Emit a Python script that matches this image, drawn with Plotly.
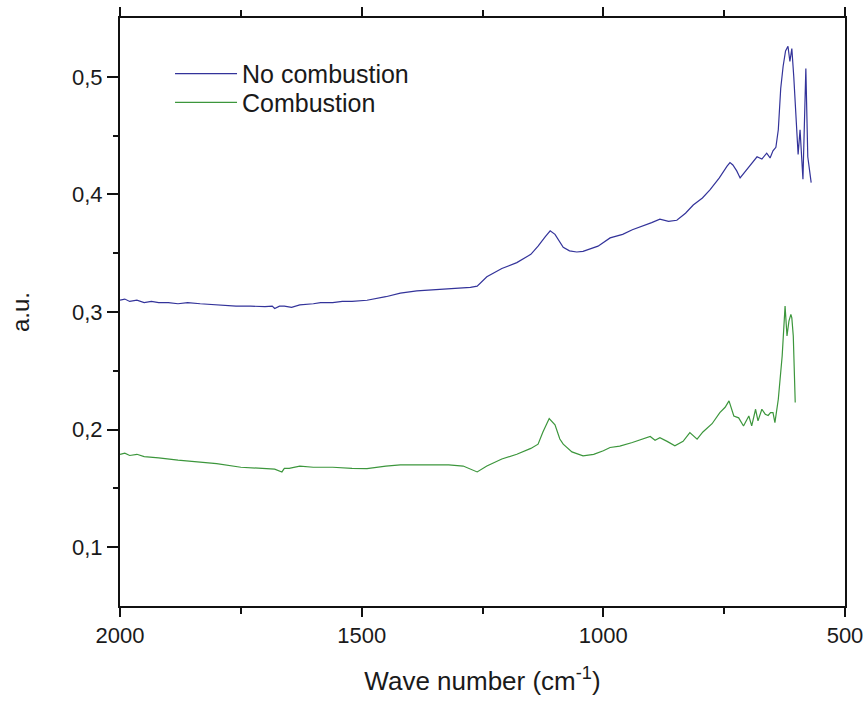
import plotly.graph_objects as go

# No combustion (blue)
wn_blue = [2000, 1990, 1980, 1965, 1950, 1935, 1920, 1900, 1880, 1860, 1834, 1800, 1760, 1730, 1700, 1685, 1680, 1670,
           1660, 1645, 1628, 1600, 1585, 1560, 1540, 1520, 1489,
           1450, 1420, 1386, 1350, 1300, 1275, 1261, 1241, 1210, 1179, 1150, 1135, 1120, 1110, 1100, 1090, 1083,
           1070, 1055, 1042, 1025, 1011, 986, 960, 940, 918, 900, 883, 865, 848, 830, 814, 795, 779, 760,
           744, 738, 732, 724, 717, 705, 695, 682, 672, 662, 655, 649, 643, 638, 633, 628, 623, 618, 614,
           610, 606, 603, 599, 597, 593, 590, 587, 584, 581, 577, 574, 570]
val_blue = [0.310, 0.311, 0.309, 0.310, 0.308, 0.309, 0.308, 0.308, 0.307, 0.308, 0.307, 0.306, 0.305, 0.305, 0.3045, 0.305, 0.303, 0.305,
            0.305, 0.304, 0.306, 0.307, 0.308, 0.308, 0.309, 0.309, 0.310,
            0.313, 0.316, 0.318, 0.319, 0.320, 0.321, 0.322, 0.330, 0.337, 0.342, 0.349, 0.356, 0.364, 0.369, 0.366, 0.359, 0.355,
            0.352, 0.351, 0.3515, 0.354, 0.356, 0.363, 0.366, 0.370, 0.373, 0.376, 0.379, 0.377, 0.378, 0.384, 0.391, 0.397, 0.404, 0.414,
            0.424, 0.427, 0.425, 0.420, 0.414, 0.420, 0.426, 0.432, 0.430, 0.435, 0.431, 0.437, 0.440, 0.455, 0.490, 0.509, 0.522, 0.526, 0.513,
            0.524, 0.500, 0.480, 0.455, 0.434, 0.455, 0.430, 0.413, 0.460, 0.507, 0.432, 0.420, 0.410]

# Combustion (green)
wn_green = [2000, 1990, 1980, 1965, 1950, 1920, 1880, 1834, 1800, 1750, 1700, 1680, 1665, 1660, 1650, 1628, 1600, 1560, 1520, 1489,
            1450, 1420, 1386, 1350, 1320, 1290, 1261, 1241, 1210, 1179, 1150, 1135, 1125, 1112, 1100, 1090,
            1083, 1065, 1042, 1020, 1000, 986, 966, 940, 920, 903, 893, 883, 868, 852, 835, 821, 806, 794,
            775, 759, 748, 740, 730, 720, 710, 699, 693, 690, 685, 680, 672, 665, 659, 654, 649, 645, 638,
            630, 624, 620, 616, 612, 610, 607, 603]
val_green = [0.179, 0.180, 0.178, 0.179, 0.177, 0.176, 0.174, 0.1726, 0.171, 0.168, 0.1665, 0.1664, 0.164, 0.167, 0.167, 0.169, 0.168, 0.168, 0.167, 0.1668,
             0.169, 0.170, 0.170, 0.170, 0.170, 0.169, 0.164, 0.169, 0.175, 0.179, 0.184, 0.1876, 0.198, 0.2094, 0.204, 0.192,
             0.1876, 0.181, 0.1777, 0.179, 0.182, 0.1848, 0.186, 0.189, 0.192, 0.1941, 0.191, 0.1932, 0.190, 0.1862, 0.190, 0.1975, 0.1919, 0.198,
             0.205, 0.2145, 0.219, 0.2244, 0.2116, 0.210, 0.2031, 0.2116, 0.2031, 0.208, 0.2173, 0.2074, 0.2173, 0.2131, 0.212, 0.2145, 0.2145, 0.206, 0.2258,
             0.2626, 0.305, 0.2796, 0.2923, 0.298, 0.295, 0.2796, 0.223]

x_ticks = [2000, 1500, 1000, 500]
x_labels = ["2000", "1500", "1000", "500"]
y_ticks = [0.1, 0.2, 0.3, 0.4, 0.5]
y_labels = ["0,1", "0,2", "0,3", "0,4", "0,5"]

fig = go.Figure()
fig.add_trace(go.Scatter(x=wn_blue, y=val_blue, mode="lines", name="No combustion",
                         line=dict(color="#33339A", width=1.2), legend="legend"))
fig.add_trace(go.Scatter(x=wn_green, y=val_green, mode="lines", name="Combustion",
                         line=dict(color="#3C963C", width=1.2), legend="legend2"))

font_family = "Liberation Sans, Arial, sans-serif"
legend_common = dict(xanchor="left", yanchor="middle", bgcolor="rgba(0,0,0,0)",
                     font=dict(size=25, color="#1a1a1a"), itemwidth=62)
fig.update_layout(
    width=863, height=701,
    margin=dict(l=120, r=18, t=18, b=95),
    paper_bgcolor="white", plot_bgcolor="white",
    font=dict(family=font_family, color="#1a1a1a", size=22),
    showlegend=True,
    legend=dict(x=0.069, y=0.905, **legend_common),
    legend2=dict(x=0.069, y=0.856, **legend_common),
)
fig.update_xaxes(
    range=[2000, 500], autorange=False, automargin=False,
    tickvals=x_ticks, ticktext=x_labels, ticklabeloverflow="allow",
    ticks="outside", ticklen=9, tickwidth=2, tickcolor="#111111",
    minor=dict(tickvals=[1750, 1250, 750], ticks="outside", ticklen=6, tickwidth=2, tickcolor="#111111"),
    showline=True, linewidth=2, linecolor="#111111", mirror="ticks",
    showgrid=False, zeroline=False,
    tickfont=dict(size=22),
    title=dict(text="Wave number (cm<sup>-1</sup>)", font=dict(size=26), standoff=24),
)
fig.update_yaxes(
    range=[0.05, 0.55], autorange=False, automargin=False,
    tickvals=y_ticks, ticktext=y_labels,
    ticks="outside", ticklen=11, tickwidth=2, tickcolor="#111111",
    minor=dict(tickvals=[0.15, 0.25, 0.35, 0.45], ticks="outside", ticklen=5, tickwidth=2, tickcolor="#111111"),
    showline=True, linewidth=2, linecolor="#111111", mirror=True,
    showgrid=False, zeroline=False,
    tickfont=dict(size=22),
    title=dict(text="a.u.", font=dict(size=24), standoff=36),
)

fig.write_html("out.html")
